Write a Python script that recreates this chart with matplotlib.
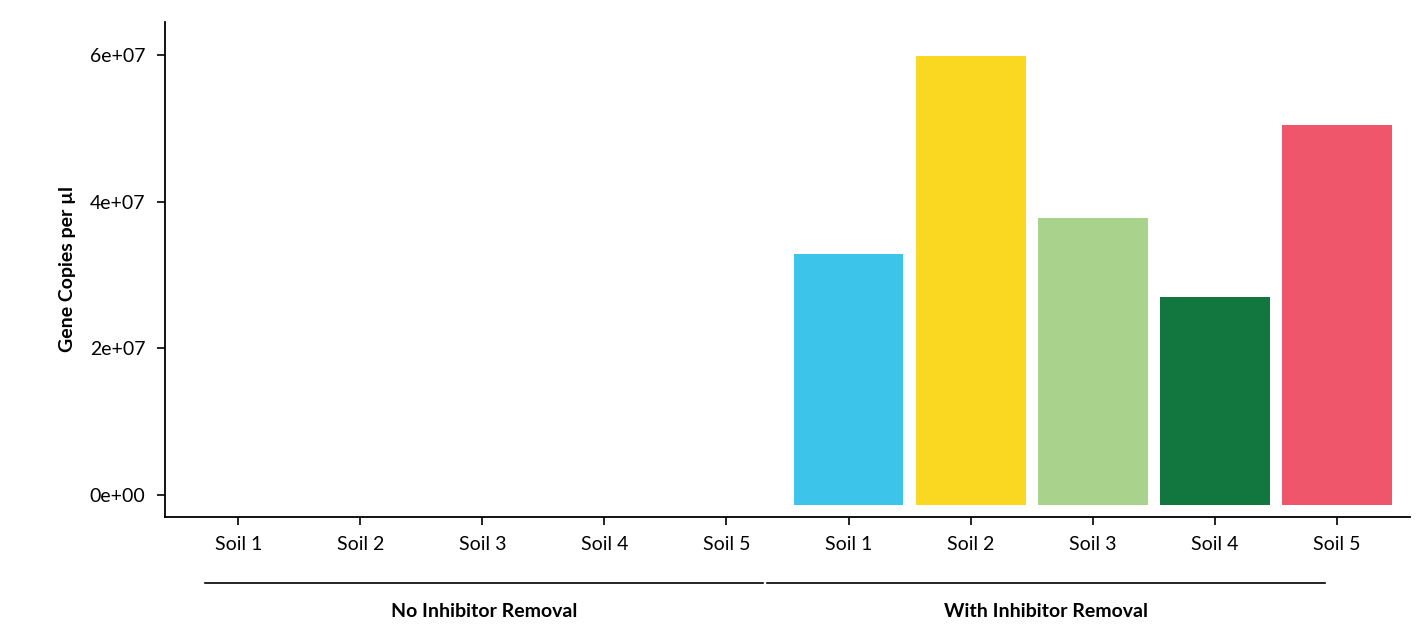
import matplotlib
matplotlib.use("Agg")
import matplotlib.pyplot as plt

plt.rcParams['font.family'] = ['Lato', 'DejaVu Sans']

soils = ["Soil 1", "Soil 2", "Soil 3", "Soil 4", "Soil 5"]
groups = ["No Inhibitor Removal", "With Inhibitor Removal"]
no_removal = [0, 0, 0, 0, 0]
with_removal = [3.29e7, 5.98e7, 3.78e7, 2.70e7, 5.05e7]
colors = ["#3CC4EA", "#FAD821", "#A9D38D", "#12773F", "#F0566B"]

fig = plt.figure(figsize=(14.24, 6.41), dpi=100)
ax = fig.add_axes([165/1424, 1-517/641, (1410-165)/1424, (517-22)/641])

base = -1.4e6
xs = list(range(10))
for i, v in enumerate(with_removal):
    ax.bar(5 + i, v - base, bottom=base, width=0.9, color=colors[i])

ax.set_xlim(-0.6, 9.6)
ax.set_ylim(-3.0e6, 6.45e7)
ax.set_xticks(xs)
ax.set_xticklabels(soils + soils, fontsize=14)
ax.set_yticks([0, 2e7, 4e7, 6e7])
ax.set_yticklabels(["0e+00", "2e+07", "4e+07", "6e+07"], fontsize=14)
ax.set_ylabel("Gene Copies per µl", fontsize=14, fontweight='bold', labelpad=10)
ax.tick_params(length=6, width=1.2, pad=8)
for s in ["top", "right"]:
    ax.spines[s].set_visible(False)
for s in ["left", "bottom"]:
    ax.spines[s].set_linewidth(1.3)

# group lines and labels
ytrans = ax.get_xaxis_transform()
for g, (x0, x1) in zip(groups, [(-0.27, 4.3), (4.33, 8.9)]):
    ax.plot([x0, x1], [-0.133, -0.133], color="black", lw=1.2, transform=ytrans, clip_on=False)
    ax.text((x0 + x1) / 2, -0.19, g, transform=ytrans, ha="center", va="center",
            fontsize=14, fontweight="bold")

fig.savefig("out.png", dpi=100)
